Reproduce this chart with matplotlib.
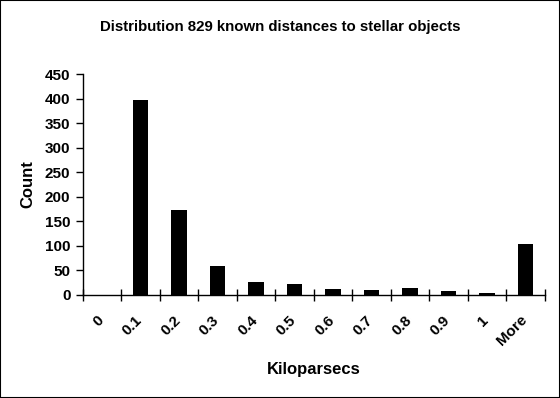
import matplotlib
matplotlib.use("Agg")
import matplotlib.pyplot as plt
import matplotlib.transforms as mtransforms
from matplotlib.patches import Rectangle

categories = ["0", "0.1", "0.2", "0.3", "0.4", "0.5", "0.6", "0.7", "0.8", "0.9", "1", "More"]
counts = [0, 397, 174, 58, 26, 22, 12, 10, 14, 9, 4, 103]
yticks = [0, 50, 100, 150, 200, 250, 300, 350, 400, 450]

plt.rcParams['font.family'] = ['Liberation Sans', 'DejaVu Sans']

fig = plt.figure(figsize=(5.6, 3.98), dpi=100)
fig.patch.set_facecolor('white')
ax = fig.add_axes([0.148, 0.259, 0.825, 0.555])

x = list(range(len(categories)))
ax.bar(x, counts, width=0.4, color='black')
ax.set_xlim(-0.5, len(categories) - 0.5)
ax.set_ylim(0, 450)
ax.set_yticks(yticks)
ax.set_yticklabels([str(v) for v in yticks], fontweight='bold', fontsize=11)

ax.set_xticks([i - 0.5 for i in range(len(categories) + 1)])
ax.set_xticklabels([])
ax.set_xticks(x, minor=True)
ax.set_xticklabels(categories, minor=True, rotation=45, ha='right',
                   rotation_mode='anchor', fontweight='bold', fontsize=11)
ax.tick_params(axis='x', which='minor', length=0, pad=13)
ax.tick_params(axis='x', which='major', direction='inout', length=8, width=1)
ax.tick_params(axis='y', direction='out', length=5, width=1, pad=4)

offset = mtransforms.ScaledTranslation(-6 / 100, 0, fig.dpi_scale_trans)
for lab in ax.get_xticklabels(minor=True):
    lab.set_transform(lab.get_transform() + offset)

for s in ['top', 'right']:
    ax.spines[s].set_visible(False)
for s in ['left', 'bottom']:
    ax.spines[s].set_linewidth(1)

ax.set_ylabel("Count", fontweight='bold', fontsize=12, labelpad=7)
ax.set_xlabel("Kiloparsecs", fontweight='bold', fontsize=12, labelpad=10)
fig.text(0.5, 0.932, "Distribution 829 known distances to stellar objects",
         ha='center', va='center', fontweight='bold', fontsize=10.8)

fig.patches.append(Rectangle((0, 0), 1, 1, transform=fig.transFigure,
                             fill=False, edgecolor='black', linewidth=1.5))

fig.savefig("out.png", dpi=100, facecolor='white')
